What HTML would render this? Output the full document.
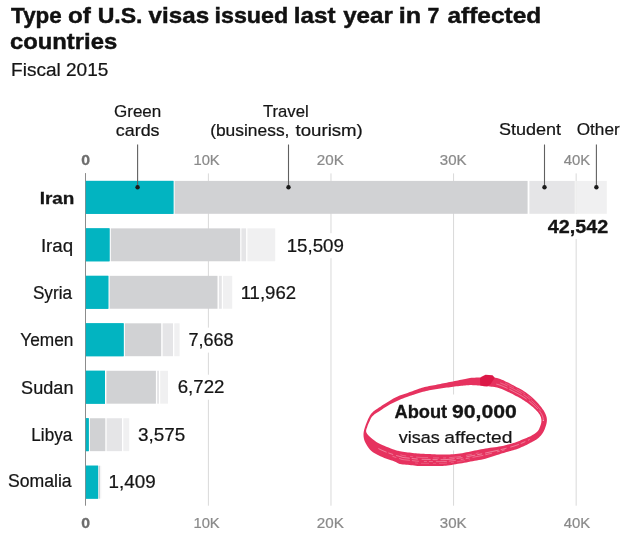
<!DOCTYPE html><html><head><meta charset="utf-8"><style>html,body{margin:0;padding:0;background:#fff;width:630px;height:535px;overflow:hidden}</style></head><body><svg width="630" height="535" viewBox="0 0 630 535" style="display:block;will-change:transform">
<rect width="630" height="535" fill="#fff"/>
<text x="11.13" y="23.10" font-family="Liberation Sans, sans-serif" font-weight="700" font-size="22.30" fill="#111" textLength="50.60" lengthAdjust="spacingAndGlyphs" stroke="#111" stroke-width="0.45">Type</text>
<text x="68.08" y="23.10" font-family="Liberation Sans, sans-serif" font-weight="700" font-size="22.30" fill="#111" textLength="22.84" lengthAdjust="spacingAndGlyphs" stroke="#111" stroke-width="0.45">of</text>
<text x="97.67" y="23.10" font-family="Liberation Sans, sans-serif" font-weight="700" font-size="22.30" fill="#111" textLength="44.84" lengthAdjust="spacingAndGlyphs" stroke="#111" stroke-width="0.45">U.S.</text>
<text x="148.63" y="23.10" font-family="Liberation Sans, sans-serif" font-weight="700" font-size="22.30" fill="#111" textLength="60.49" lengthAdjust="spacingAndGlyphs" stroke="#111" stroke-width="0.45">visas</text>
<text x="214.52" y="23.10" font-family="Liberation Sans, sans-serif" font-weight="700" font-size="22.30" fill="#111" textLength="73.65" lengthAdjust="spacingAndGlyphs" stroke="#111" stroke-width="0.45">issued</text>
<text x="293.86" y="23.10" font-family="Liberation Sans, sans-serif" font-weight="700" font-size="22.30" fill="#111" textLength="41.71" lengthAdjust="spacingAndGlyphs" stroke="#111" stroke-width="0.45">last</text>
<text x="343.17" y="23.10" font-family="Liberation Sans, sans-serif" font-weight="700" font-size="22.30" fill="#111" textLength="49.65" lengthAdjust="spacingAndGlyphs" stroke="#111" stroke-width="0.45">year</text>
<text x="398.68" y="23.10" font-family="Liberation Sans, sans-serif" font-weight="700" font-size="22.30" fill="#111" textLength="22.41" lengthAdjust="spacingAndGlyphs" stroke="#111" stroke-width="0.45">in</text>
<text x="427.55" y="23.10" font-family="Liberation Sans, sans-serif" font-weight="700" font-size="22.30" fill="#111" textLength="11.83" lengthAdjust="spacingAndGlyphs" stroke="#111" stroke-width="0.45">7</text>
<text x="447.52" y="23.10" font-family="Liberation Sans, sans-serif" font-weight="700" font-size="22.30" fill="#111" textLength="93.67" lengthAdjust="spacingAndGlyphs" stroke="#111" stroke-width="0.45">affected</text>
<text x="10.00" y="49.20" font-family="Liberation Sans, sans-serif" font-weight="700" font-size="22.30" fill="#111" textLength="107.13" lengthAdjust="spacingAndGlyphs" stroke="#111" stroke-width="0.45">countries</text>
<text x="11.08" y="76.20" font-family="Liberation Sans, sans-serif" font-size="18.00" fill="#151515" textLength="97.26" lengthAdjust="spacingAndGlyphs" stroke="#151515" stroke-width="0.22">Fiscal 2015</text>
<line x1="208.39" y1="173.4" x2="208.39" y2="505.7" stroke="#d9d9d9" stroke-width="1"/>
<line x1="330.98" y1="173.4" x2="330.98" y2="505.7" stroke="#d9d9d9" stroke-width="1"/>
<line x1="453.57" y1="173.4" x2="453.57" y2="505.7" stroke="#d9d9d9" stroke-width="1"/>
<line x1="576.16" y1="173.4" x2="576.16" y2="505.7" stroke="#d9d9d9" stroke-width="1"/>
<text x="81.22" y="165.40" font-family="Liberation Sans, sans-serif" font-weight="700" font-size="14.20" fill="#6e6e6e" textLength="8.78" lengthAdjust="spacingAndGlyphs" stroke="#6e6e6e" stroke-width="0.3">0</text>
<text x="193.44" y="165.00" font-family="Liberation Sans, sans-serif" font-size="14.40" fill="#8a8a8a" textLength="26.28" lengthAdjust="spacingAndGlyphs" stroke="#8a8a8a" stroke-width="0.22">10K</text>
<text x="316.89" y="165.00" font-family="Liberation Sans, sans-serif" font-size="14.40" fill="#8a8a8a" textLength="27.04" lengthAdjust="spacingAndGlyphs" stroke="#8a8a8a" stroke-width="0.22">20K</text>
<text x="439.79" y="165.00" font-family="Liberation Sans, sans-serif" font-size="14.40" fill="#8a8a8a" textLength="26.74" lengthAdjust="spacingAndGlyphs" stroke="#8a8a8a" stroke-width="0.22">30K</text>
<text x="563.81" y="165.00" font-family="Liberation Sans, sans-serif" font-size="14.40" fill="#8a8a8a" textLength="26.51" lengthAdjust="spacingAndGlyphs" stroke="#8a8a8a" stroke-width="0.22">40K</text>
<text x="81.22" y="528.00" font-family="Liberation Sans, sans-serif" font-weight="700" font-size="14.20" fill="#6e6e6e" textLength="8.78" lengthAdjust="spacingAndGlyphs" stroke="#6e6e6e" stroke-width="0.3">0</text>
<text x="193.44" y="527.60" font-family="Liberation Sans, sans-serif" font-size="14.40" fill="#8a8a8a" textLength="26.28" lengthAdjust="spacingAndGlyphs" stroke="#8a8a8a" stroke-width="0.22">10K</text>
<text x="316.89" y="527.60" font-family="Liberation Sans, sans-serif" font-size="14.40" fill="#8a8a8a" textLength="27.04" lengthAdjust="spacingAndGlyphs" stroke="#8a8a8a" stroke-width="0.22">20K</text>
<text x="439.79" y="527.60" font-family="Liberation Sans, sans-serif" font-size="14.40" fill="#8a8a8a" textLength="26.74" lengthAdjust="spacingAndGlyphs" stroke="#8a8a8a" stroke-width="0.22">30K</text>
<text x="563.81" y="527.60" font-family="Liberation Sans, sans-serif" font-size="14.40" fill="#8a8a8a" textLength="26.51" lengthAdjust="spacingAndGlyphs" stroke="#8a8a8a" stroke-width="0.22">40K</text>
<rect x="85.80" y="180.90" width="87.60" height="32.9" fill="#02b4c1"/>
<rect x="174.60" y="180.90" width="353.00" height="32.9" fill="#d1d2d4"/>
<rect x="529.40" y="180.90" width="45.40" height="32.9" fill="#e5e5e7"/>
<rect x="576.20" y="180.90" width="30.60" height="32.9" fill="#f0f0f1"/>
<rect x="85.80" y="228.37" width="23.70" height="32.9" fill="#02b4c1"/>
<rect x="110.80" y="228.37" width="129.40" height="32.9" fill="#d1d2d4"/>
<rect x="241.40" y="228.37" width="4.70" height="32.9" fill="#e5e5e7"/>
<rect x="247.40" y="228.37" width="27.80" height="32.9" fill="#f0f0f1"/>
<rect x="85.80" y="275.84" width="22.50" height="32.9" fill="#02b4c1"/>
<rect x="109.60" y="275.84" width="107.90" height="32.9" fill="#d1d2d4"/>
<rect x="218.90" y="275.84" width="2.90" height="32.9" fill="#e5e5e7"/>
<rect x="223.00" y="275.84" width="9.20" height="32.9" fill="#f0f0f1"/>
<rect x="85.80" y="323.31" width="37.80" height="32.9" fill="#02b4c1"/>
<rect x="124.90" y="323.31" width="36.30" height="32.9" fill="#d1d2d4"/>
<rect x="162.60" y="323.31" width="10.40" height="32.9" fill="#e5e5e7"/>
<rect x="174.30" y="323.31" width="5.30" height="32.9" fill="#f0f0f1"/>
<rect x="85.80" y="370.78" width="19.20" height="32.9" fill="#02b4c1"/>
<rect x="106.40" y="370.78" width="49.50" height="32.9" fill="#d1d2d4"/>
<rect x="157.10" y="370.78" width="1.90" height="32.9" fill="#e5e5e7"/>
<rect x="160.20" y="370.78" width="7.80" height="32.9" fill="#f0f0f1"/>
<rect x="85.80" y="418.25" width="2.90" height="32.9" fill="#02b4c1"/>
<rect x="89.90" y="418.25" width="15.40" height="32.9" fill="#d1d2d4"/>
<rect x="106.60" y="418.25" width="15.40" height="32.9" fill="#e5e5e7"/>
<rect x="123.30" y="418.25" width="5.90" height="32.9" fill="#f0f0f1"/>
<rect x="85.80" y="465.72" width="12.30" height="32.9" fill="#02b4c1"/>
<rect x="98.70" y="465.72" width="1.30" height="32.9" fill="#d1d2d4"/>
<rect x="100.20" y="465.72" width="0.30" height="32.9" fill="#e5e5e7"/>
<rect x="100.70" y="465.72" width="0.50" height="32.9" fill="#f0f0f1"/>
<line x1="85.5" y1="173.1" x2="85.5" y2="505.7" stroke="#8c8c8c" stroke-width="1"/>
<rect x="85.80" y="180.90" width="87.60" height="32.9" fill="#02b4c1"/>
<rect x="85.80" y="228.37" width="23.70" height="32.9" fill="#02b4c1"/>
<rect x="85.80" y="275.84" width="22.50" height="32.9" fill="#02b4c1"/>
<rect x="85.80" y="323.31" width="37.80" height="32.9" fill="#02b4c1"/>
<rect x="85.80" y="370.78" width="19.20" height="32.9" fill="#02b4c1"/>
<rect x="85.80" y="418.25" width="2.90" height="32.9" fill="#02b4c1"/>
<rect x="85.80" y="465.72" width="12.30" height="32.9" fill="#02b4c1"/>
<text x="39.67" y="204.40" font-family="Liberation Sans, sans-serif" font-weight="700" font-size="17.20" fill="#151515" textLength="34.74" lengthAdjust="spacingAndGlyphs" stroke="#151515" stroke-width="0.3">Iran</text>
<rect x="545" y="214" width="65" height="25" fill="#fff"/>
<text x="547.65" y="233.00" font-family="Liberation Sans, sans-serif" font-weight="700" font-size="17.50" fill="#151515" textLength="60.51" lengthAdjust="spacingAndGlyphs" stroke="#151515" stroke-width="0.3">42,542</text>
<text x="40.92" y="252.20" font-family="Liberation Sans, sans-serif" font-size="17.60" fill="#151515" textLength="32.32" lengthAdjust="spacingAndGlyphs" stroke="#151515" stroke-width="0.22">Iraq</text>
<rect x="284.60" y="233.20" width="61.90" height="25" fill="#fff"/>
<text x="286.65" y="251.80" font-family="Liberation Sans, sans-serif" font-size="17.70" fill="#151515" textLength="57.27" lengthAdjust="spacingAndGlyphs" stroke="#151515" stroke-width="0.22">15,509</text>
<text x="32.88" y="298.60" font-family="Liberation Sans, sans-serif" font-size="17.60" fill="#151515" textLength="39.19" lengthAdjust="spacingAndGlyphs" stroke="#151515" stroke-width="0.22">Syria</text>
<rect x="238.60" y="280.30" width="60.00" height="25" fill="#fff"/>
<text x="240.66" y="298.90" font-family="Liberation Sans, sans-serif" font-size="17.70" fill="#151515" textLength="55.46" lengthAdjust="spacingAndGlyphs" stroke="#151515" stroke-width="0.22">11,962</text>
<text x="20.26" y="346.10" font-family="Liberation Sans, sans-serif" font-size="17.60" fill="#151515" textLength="53.14" lengthAdjust="spacingAndGlyphs" stroke="#151515" stroke-width="0.22">Yemen</text>
<rect x="185.90" y="327.60" width="50.40" height="25" fill="#fff"/>
<text x="188.40" y="346.20" font-family="Liberation Sans, sans-serif" font-size="17.70" fill="#151515" textLength="45.22" lengthAdjust="spacingAndGlyphs" stroke="#151515" stroke-width="0.22">7,668</text>
<text x="21.14" y="393.50" font-family="Liberation Sans, sans-serif" font-size="17.60" fill="#151515" textLength="52.32" lengthAdjust="spacingAndGlyphs" stroke="#151515" stroke-width="0.22">Sudan</text>
<rect x="175.20" y="374.70" width="51.80" height="25" fill="#fff"/>
<text x="177.72" y="393.30" font-family="Liberation Sans, sans-serif" font-size="17.70" fill="#151515" textLength="46.77" lengthAdjust="spacingAndGlyphs" stroke="#151515" stroke-width="0.22">6,722</text>
<text x="31.34" y="440.60" font-family="Liberation Sans, sans-serif" font-size="17.60" fill="#151515" textLength="40.92" lengthAdjust="spacingAndGlyphs" stroke="#151515" stroke-width="0.22">Libya</text>
<rect x="135.20" y="422.10" width="52.70" height="25" fill="#fff"/>
<text x="137.94" y="440.70" font-family="Liberation Sans, sans-serif" font-size="17.70" fill="#151515" textLength="47.26" lengthAdjust="spacingAndGlyphs" stroke="#151515" stroke-width="0.22">3,575</text>
<text x="7.96" y="486.80" font-family="Liberation Sans, sans-serif" font-size="17.60" fill="#151515" textLength="63.70" lengthAdjust="spacingAndGlyphs" stroke="#151515" stroke-width="0.22">Somalia</text>
<rect x="106.60" y="469.00" width="51.70" height="25" fill="#fff"/>
<text x="108.64" y="487.60" font-family="Liberation Sans, sans-serif" font-size="17.70" fill="#151515" textLength="47.06" lengthAdjust="spacingAndGlyphs" stroke="#151515" stroke-width="0.22">1,409</text>
<line x1="137.6" y1="144.5" x2="137.6" y2="187.3" stroke="#606060" stroke-width="1.1"/>
<circle cx="137.6" cy="187.3" r="2.2" fill="#1a1a1a"/>
<line x1="288.5" y1="144.5" x2="288.5" y2="187.3" stroke="#606060" stroke-width="1.1"/>
<circle cx="288.5" cy="187.3" r="2.2" fill="#1a1a1a"/>
<line x1="544.5" y1="144.5" x2="544.5" y2="187.3" stroke="#606060" stroke-width="1.1"/>
<circle cx="544.5" cy="187.3" r="2.2" fill="#1a1a1a"/>
<line x1="596.4" y1="144.5" x2="596.4" y2="187.3" stroke="#606060" stroke-width="1.1"/>
<circle cx="596.4" cy="187.3" r="2.2" fill="#1a1a1a"/>
<text x="114.00" y="117.00" font-family="Liberation Sans, sans-serif" font-size="17.00" fill="#151515" textLength="47.29" lengthAdjust="spacingAndGlyphs" stroke="#151515" stroke-width="0.22">Green</text>
<text x="115.79" y="136.00" font-family="Liberation Sans, sans-serif" font-size="17.00" fill="#151515" textLength="43.79" lengthAdjust="spacingAndGlyphs" stroke="#151515" stroke-width="0.22">cards</text>
<text x="262.98" y="117.00" font-family="Liberation Sans, sans-serif" font-size="17.00" fill="#151515" textLength="45.68" lengthAdjust="spacingAndGlyphs" stroke="#151515" stroke-width="0.22">Travel</text>
<text x="210.16" y="136.00" font-family="Liberation Sans, sans-serif" font-size="17.00" fill="#151515" textLength="79.26" lengthAdjust="spacingAndGlyphs" stroke="#151515" stroke-width="0.22">(business,</text>
<text x="295.57" y="136.00" font-family="Liberation Sans, sans-serif" font-size="17.00" fill="#151515" textLength="67.27" lengthAdjust="spacingAndGlyphs" stroke="#151515" stroke-width="0.22">tourism)</text>
<text x="498.94" y="135.00" font-family="Liberation Sans, sans-serif" font-size="17.00" fill="#151515" textLength="62.14" lengthAdjust="spacingAndGlyphs" stroke="#151515" stroke-width="0.22">Student</text>
<text x="576.73" y="135.00" font-family="Liberation Sans, sans-serif" font-size="17.00" fill="#151515" textLength="42.99" lengthAdjust="spacingAndGlyphs" stroke="#151515" stroke-width="0.22">Other</text>
<rect x="385" y="394.5" width="140" height="56" fill="#fff"/>
<path d="M363.50,435.20 L363.50,434.03 L363.58,432.89 L363.74,431.76 L363.99,430.60 L364.31,429.36 L364.70,428.00 L365.19,426.46 L365.80,424.74 L366.49,422.96 L367.21,421.19 L367.92,419.54 L368.60,418.10 L369.21,416.90 L369.77,415.86 L370.33,414.93 L370.93,414.08 L371.61,413.25 L372.40,412.40 L373.30,411.56 L374.28,410.79 L375.34,410.03 L376.47,409.27 L377.69,408.47 L379.00,407.60 L380.43,406.64 L381.98,405.60 L383.62,404.53 L385.30,403.44 L386.97,402.39 L388.60,401.40 L390.19,400.45 L391.77,399.52 L393.36,398.62 L394.94,397.76 L396.52,396.95 L398.10,396.20 L399.68,395.54 L401.27,394.96 L402.86,394.44 L404.44,393.94 L406.02,393.43 L407.60,392.90 L409.19,392.33 L410.81,391.74 L412.43,391.14 L414.01,390.56 L415.54,390.01 L417.00,389.50 L418.34,389.04 L419.57,388.61 L420.74,388.21 L421.92,387.83 L423.16,387.46 L424.50,387.10 L425.97,386.75 L427.51,386.43 L429.12,386.12 L430.75,385.81 L432.39,385.51 L434.00,385.20 L435.60,384.88 L437.20,384.57 L438.80,384.25 L440.40,383.93 L442.00,383.62 L443.60,383.30 L445.19,382.98 L446.77,382.67 L448.36,382.35 L449.94,382.03 L451.52,381.72 L453.10,381.40 L454.71,381.08 L456.34,380.75 L457.98,380.42 L459.59,380.10 L461.14,379.79 L462.60,379.50 L463.93,379.22 L465.14,378.93 L466.30,378.66 L467.46,378.41 L468.67,378.19 L470.00,378.00 L471.46,377.86 L473.01,377.75 L474.62,377.67 L476.26,377.61 L477.89,377.55 L479.50,377.50 L481.08,377.43 L482.66,377.36 L484.24,377.29 L485.83,377.25 L487.41,377.25 L489.00,377.30 L490.60,377.39 L492.20,377.49 L493.80,377.63 L495.40,377.83 L497.00,378.12 L498.60,378.50 L500.21,379.02 L501.84,379.65 L503.46,380.37 L505.06,381.13 L506.62,381.88 L508.10,382.60 L509.49,383.28 L510.81,383.95 L512.09,384.63 L513.34,385.30 L514.60,385.99 L515.90,386.70 L517.24,387.41 L518.59,388.12 L519.96,388.84 L521.32,389.59 L522.67,390.37 L524.00,391.20 L525.33,392.09 L526.66,393.03 L527.98,394.01 L529.27,395.00 L530.51,396.01 L531.70,397.00 L532.82,397.98 L533.89,398.97 L534.91,399.96 L535.90,400.96 L536.86,401.97 L537.80,403.00 L538.73,404.06 L539.66,405.14 L540.55,406.24 L541.40,407.33 L542.19,408.39 L542.90,409.40 L543.53,410.36 L544.10,411.28 L544.60,412.17 L545.05,413.05 L545.45,413.92 L545.80,414.80 L546.11,415.67 L546.38,416.52 L546.60,417.36 L546.76,418.21 L546.86,419.09 L546.90,420.00 L546.86,420.95 L546.76,421.91 L546.60,422.91 L546.38,423.92 L546.11,424.95 L545.80,426.00 L545.44,427.09 L545.04,428.22 L544.58,429.38 L544.07,430.52 L543.51,431.64 L542.90,432.70 L542.23,433.72 L541.50,434.71 L540.72,435.67 L539.89,436.60 L539.01,437.48 L538.10,438.30 L537.14,439.05 L536.14,439.72 L535.09,440.35 L534.00,440.96 L532.87,441.56 L531.70,442.20 L530.47,442.87 L529.18,443.56 L527.84,444.24 L526.49,444.92 L525.13,445.58 L523.80,446.20 L522.48,446.79 L521.17,447.36 L519.86,447.91 L518.54,448.43 L517.22,448.93 L515.90,449.40 L514.58,449.83 L513.27,450.22 L511.96,450.58 L510.64,450.94 L509.29,451.30 L507.90,451.70 L506.52,452.11 L505.17,452.51 L503.80,452.92 L502.35,453.37 L500.77,453.85 L499.00,454.40 L496.99,455.04 L494.78,455.78 L492.44,456.56 L490.04,457.34 L487.67,458.07 L485.40,458.70 L483.23,459.22 L481.10,459.67 L478.99,460.07 L476.90,460.45 L474.81,460.82 L472.70,461.20 L470.58,461.60 L468.46,461.99 L466.33,462.38 L464.21,462.76 L462.10,463.14 L460.00,463.50 L457.88,463.87 L455.74,464.24 L453.60,464.61 L451.51,464.96 L449.50,465.26 L447.60,465.50 L445.85,465.68 L444.22,465.80 L442.67,465.88 L441.16,465.93 L439.65,465.96 L438.10,466.00 L436.52,466.03 L434.94,466.04 L433.36,466.03 L431.77,466.02 L430.19,466.01 L428.60,466.00 L427.00,466.01 L425.40,466.04 L423.80,466.06 L422.20,466.07 L420.60,466.06 L419.00,466.00 L417.41,465.89 L415.83,465.74 L414.24,465.56 L412.66,465.37 L411.08,465.18 L409.50,465.00 L407.87,464.85 L406.19,464.73 L404.50,464.60 L402.87,464.45 L401.35,464.26 L400.00,464.00 L398.93,463.68 L398.12,463.31 L397.42,462.91 L396.68,462.45 L395.76,461.95 L394.50,461.40 L392.84,460.80 L390.88,460.16 L388.74,459.47 L386.52,458.73 L384.34,457.94 L382.30,457.10 L380.35,456.22 L378.39,455.29 L376.47,454.31 L374.63,453.28 L372.92,452.18 L371.40,451.00 L370.06,449.71 L368.85,448.30 L367.78,446.83 L366.84,445.33 L366.01,443.87 L365.30,442.50 L364.72,441.21 L364.27,439.97 L363.94,438.77 L363.72,437.58 L363.58,436.40 Z M367.23,433.98 L368.29,435.23 L369.57,436.53 L370.98,437.80 L372.42,439.01 L373.80,440.10 L375.10,441.06 L376.41,441.91 L377.74,442.71 L379.15,443.46 L380.66,444.22 L382.30,445.00 L384.20,445.85 L386.34,446.73 L388.59,447.62 L390.79,448.46 L392.81,449.20 L394.50,449.80 L395.76,450.23 L396.68,450.52 L397.42,450.71 L398.12,450.86 L398.93,451.01 L400.00,451.20 L401.35,451.44 L402.87,451.68 L404.50,451.93 L406.19,452.16 L407.87,452.39 L409.50,452.60 L411.08,452.80 L412.66,452.99 L414.24,453.16 L415.83,453.33 L417.41,453.47 L419.00,453.60 L420.60,453.70 L422.20,453.77 L423.80,453.83 L425.40,453.88 L427.00,453.93 L428.60,454.00 L430.19,454.08 L431.77,454.18 L433.36,454.28 L434.94,454.37 L436.52,454.44 L438.10,454.50 L439.65,454.54 L441.16,454.57 L442.67,454.59 L444.22,454.59 L445.85,454.56 L447.60,454.50 L449.50,454.41 L451.51,454.30 L453.60,454.16 L455.74,453.98 L457.88,453.77 L460.00,453.50 L462.10,453.17 L464.21,452.78 L466.33,452.34 L468.46,451.89 L470.58,451.43 L472.70,451.00 L474.81,450.58 L476.90,450.14 L478.99,449.71 L481.10,449.29 L483.23,448.88 L485.40,448.50 L487.67,448.15 L490.04,447.83 L492.44,447.52 L494.78,447.22 L496.99,446.92 L499.00,446.60 L500.77,446.28 L502.35,445.96 L503.80,445.63 L505.17,445.30 L506.52,444.96 L507.90,444.60 L509.29,444.23 L510.64,443.86 L511.96,443.48 L513.27,443.07 L514.58,442.65 L515.90,442.20 L517.22,441.72 L518.54,441.20 L519.86,440.67 L521.17,440.12 L522.48,439.56 L523.80,439.00 L525.14,438.44 L526.51,437.88 L527.88,437.31 L529.21,436.73 L530.50,436.13 L531.70,435.50 L532.84,434.84 L533.94,434.16 L534.99,433.46 L535.97,432.75 L536.84,432.03 L537.60,431.30 L538.21,430.58 L538.70,429.85 L539.08,429.12 L539.40,428.37 L539.70,427.60 L540.00,426.80 L540.32,425.96 L540.62,425.08 L540.90,424.18 L541.13,423.27 L541.31,422.38 L541.40,421.50 L541.42,420.65 L541.39,419.81 L541.29,418.98 L541.13,418.16 L540.90,417.33 L540.60,416.50 L540.22,415.67 L539.77,414.84 L539.25,414.02 L538.66,413.19 L538.01,412.35 L537.30,411.50 L536.52,410.64 L535.68,409.77 L534.78,408.89 L533.81,408.01 L532.78,407.11 L531.70,406.20 L530.54,405.26 L529.30,404.29 L528.01,403.31 L526.67,402.33 L525.33,401.39 L524.00,400.50 L522.67,399.66 L521.32,398.86 L519.96,398.09 L518.59,397.35 L517.24,396.62 L515.90,395.90 L514.60,395.20 L513.34,394.52 L512.09,393.86 L510.81,393.20 L509.49,392.55 L508.10,391.90 L506.60,391.22 L505.03,390.50 L503.40,389.79 L501.76,389.12 L500.15,388.51 L498.60,388.00 L497.14,387.61 L495.74,387.30 L494.36,387.07 L492.97,386.87 L491.53,386.69 L490.00,386.50 L488.35,386.30 L486.60,386.11 L484.81,385.93 L483.00,385.77 L481.21,385.63 L479.50,385.50 L477.83,385.39 L476.18,385.29 L474.56,385.20 L472.97,385.14 L471.45,385.10 L470.00,385.10 L468.67,385.14 L467.46,385.21 L466.30,385.31 L465.14,385.43 L463.93,385.57 L462.60,385.70 L461.14,385.84 L459.59,385.99 L457.98,386.15 L456.34,386.32 L454.71,386.51 L453.10,386.70 L451.52,386.91 L449.94,387.14 L448.36,387.38 L446.77,387.62 L445.19,387.86 L443.60,388.10 L442.00,388.33 L440.40,388.55 L438.80,388.77 L437.20,389.00 L435.60,389.24 L434.00,389.50 L432.41,389.78 L430.83,390.06 L429.24,390.36 L427.66,390.67 L426.08,391.02 L424.50,391.40 L422.89,391.83 L421.26,392.31 L419.62,392.82 L418.01,393.33 L416.46,393.83 L415.00,394.30 L413.67,394.71 L412.46,395.09 L411.30,395.44 L410.14,395.81 L408.93,396.22 L407.60,396.70 L406.14,397.24 L404.59,397.83 L402.98,398.46 L401.34,399.11 L399.71,399.80 L398.10,400.50 L396.52,401.21 L394.94,401.94 L393.36,402.70 L391.77,403.49 L390.19,404.32 L388.60,405.20 L386.97,406.16 L385.30,407.21 L383.62,408.29 L381.98,409.38 L380.43,410.43 L379.00,411.40 L377.68,412.28 L376.44,413.09 L375.28,413.86 L374.21,414.61 L373.25,415.39 L372.40,416.20 L371.69,417.06 L371.13,417.93 L370.67,418.83 L370.28,419.72 L369.90,420.62 L369.50,421.50 L369.08,422.36 L368.66,423.21 L368.27,424.05 L367.90,424.90 L367.58,425.78 L367.30,426.70 L366.99,427.65 L366.63,428.62 L366.31,429.62 L366.11,430.64 L366.15,431.70 L366.50,432.80 Z" fill="#e6325f" fill-rule="evenodd"/>
<path d="M378.36,448.53 L378.87,448.79 L379.40,449.06 L380.19,449.46 L380.75,449.72 L381.32,449.99 L381.91,450.26 L382.52,450.53 L383.13,450.80 L383.76,451.06 L384.38,451.33 L385.28,451.71 L385.93,451.97 L386.87,452.34 L387.53,452.59 L388.19,452.83 L388.85,453.07 L389.50,453.30 L390.14,453.53 L390.77,453.74 L391.38,453.95 L391.96,454.15 L392.52,454.34 L393.06,454.52 L393.29,454.60 L393.77,454.76 L394.22,454.91 L394.39,454.97 L394.80,455.10 L394.94,455.15 L395.08,455.19 L395.44,455.30 L395.56,455.33 L395.68,455.36 L396.01,455.47 L396.13,455.49 L396.24,455.52 L396.57,455.62 L396.70,455.64 L396.84,455.67 L397.18,455.77 L397.34,455.80 L397.52,455.83 L397.89,455.94 L398.10,455.98 L398.48,456.09 L398.85,456.20 L399.09,456.24 L399.47,456.35 L399.84,456.46 L400.21,456.56 L402.67,457.41 L403.35,457.51 L404.06,457.59 L404.55,457.65 L405.05,457.71 L405.56,457.76 L406.07,457.82 L406.57,457.87 L407.08,457.93 L407.58,457.98 L408.08,458.03 L408.58,458.09 L409.06,458.14 L409.55,458.19 L409.81,458.22 L410.28,458.28 L410.76,458.33 L411.23,458.39 L411.71,458.44 L412.18,458.50 L412.66,458.55 L413.13,458.61 L413.60,458.66 L414.08,458.72 L414.55,458.77 L415.03,458.82 L415.50,458.87 L415.98,458.92 L416.45,458.97 L416.93,459.02 L417.62,459.08 L418.09,459.12 L418.57,459.15 L419.26,459.20 L419.74,459.23 L420.22,459.25 L420.70,459.27 L421.40,459.29 L421.88,459.30 L422.36,459.31 L422.84,459.32 L423.32,459.33 L423.80,459.34 L424.28,459.34 L424.76,459.35 L425.24,459.35 L425.72,459.35 L426.20,459.36 L426.68,459.36 L427.16,459.37 L427.64,459.38 L428.12,459.39 L428.60,459.40 L429.08,459.41 L429.55,459.43 L430.03,459.44 L430.51,459.46 L430.98,459.48 L431.46,459.49 L431.93,459.51 L432.41,459.53 L432.88,459.55 L433.36,459.57 L433.83,459.58 L434.30,459.60 L434.78,459.61 L435.25,459.63 L435.73,459.64 L436.20,459.65 L436.68,459.66 L437.15,459.67 L437.84,459.67 L438.31,459.67 L438.78,459.67 L439.24,459.67 L439.70,459.68 L440.16,459.68 L440.61,459.68 L441.06,459.68 L441.51,459.68 L441.96,459.67 L442.42,459.67 L442.88,459.66 L443.34,459.65 L443.80,459.64 L444.49,459.61 L444.98,459.59 L445.47,459.57 L445.97,459.54 L446.49,459.51 L447.01,459.47 L447.81,459.40 L448.36,459.35 L448.94,459.30 L449.52,459.25 L450.11,459.19 L450.71,459.13 L451.32,459.07 L451.94,459.00 L452.56,458.93 L453.19,458.86 L453.83,458.79 L454.47,458.71 L455.11,458.64 L455.75,458.56 L456.39,458.47 L457.03,458.39 L457.68,458.31 L458.32,458.22 L458.95,458.13 L459.59,458.04 L460.22,457.95 L460.85,457.85 L461.48,457.75 L462.11,457.65 L462.74,457.54 L463.38,457.43 L464.01,457.31 L464.65,457.20 L465.28,457.08 L465.92,456.95 L466.55,456.83 L467.19,456.70 L467.83,456.58 L468.47,456.45 L469.10,456.32 L469.74,456.19 L470.38,456.06 L471.01,455.93 L471.65,455.80 L472.29,455.68 L472.92,455.55 L473.55,455.43 L474.19,455.31 L474.82,455.20 L475.44,455.08 L476.07,454.95 L476.70,454.83 L477.33,454.71 L477.96,454.59 L478.59,454.47 L479.22,454.34 L479.85,454.21 L480.48,454.09 L481.11,453.96 L481.75,453.83 L482.68,453.62 L483.32,453.49 L483.97,453.34 L484.62,453.20 L485.29,453.05 L485.96,452.90 L486.63,452.74 L487.32,452.59 L488.01,452.43 L488.72,452.27 L489.43,452.11 L490.14,451.95 L490.86,451.79 L491.57,451.63 L492.29,451.48 L492.99,451.32 L493.70,451.17 L494.39,451.02 L495.08,450.87 L495.75,450.73 L496.40,450.59 L497.04,450.45 L497.66,450.32 L498.26,450.19 L498.84,450.06 L499.40,449.94 L499.94,449.82 L500.46,449.70 L500.97,449.58 L501.45,449.46 L502.12,449.29 L502.58,449.18 L503.02,449.07 L503.46,448.96 L503.89,448.85 L504.31,448.74 L504.72,448.64 L505.13,448.53 L505.54,448.42 L505.95,448.31 L506.36,448.20 L506.77,448.09 L507.18,447.97 L507.59,447.86 L507.82,447.81 L508.23,447.69 L508.65,447.58 L509.06,447.47 L509.47,447.36 L509.88,447.25 L510.28,447.14 L510.69,447.04 L511.26,446.88 L511.66,446.77 L512.06,446.65 L512.45,446.54 L512.85,446.42 L513.24,446.31 L513.63,446.19 L514.03,446.06 L514.60,445.88 L514.99,445.74 L515.39,445.61 L515.78,445.47 L516.18,445.33 L516.57,445.19 L516.97,445.05 L517.37,444.90 L517.76,444.75 L518.16,444.60 L518.55,444.45 L519.13,444.22 L519.52,444.06 L519.91,443.89 L520.31,443.73 L520.70,443.56 L521.10,443.40 L521.49,443.23 L521.89,443.06 L522.28,442.89 L522.68,442.71 L523.07,442.54 L523.47,442.36 L523.87,442.18 L524.27,442.00 L524.67,441.82 L525.07,441.63 L525.47,441.45 L525.88,441.27 L526.28,441.08 L526.69,440.90 L527.09,440.71 L527.50,440.53 L527.90,440.34 L528.30,440.16 L528.70,439.97 L529.27,439.69 L529.66,439.51" fill="none" stroke="#fff" stroke-opacity="0.45" stroke-width="0.9" stroke-dasharray="9 2 5 3 14 2 6 4"/>
<path d="M392.51,456.30 L392.67,456.36 L393.19,456.53 L393.68,456.69 L393.80,456.73 L394.25,456.88 L394.35,456.91 L394.44,456.94 L394.85,457.08 L394.94,457.10 L395.02,457.12 L395.40,457.25 L395.48,457.27 L395.56,457.28 L395.93,457.41 L396.02,457.42 L396.12,457.44 L396.48,457.56 L396.59,457.58 L396.72,457.60 L397.09,457.73 L397.23,457.76 L397.60,457.89 L397.96,458.01 L398.12,458.04 L398.47,458.16 L398.81,458.28 L399.14,458.40 L402.35,459.54 L403.11,459.64 L403.89,459.73 L404.38,459.79 L404.88,459.84 L405.39,459.89 L405.89,459.94 L406.40,459.99 L406.91,460.04 L407.41,460.08 L407.91,460.13 L408.41,460.18 L408.90,460.23 L409.38,460.28 L409.56,460.30 L410.04,460.36 L410.52,460.41 L410.99,460.46 L411.46,460.52 L411.94,460.58 L412.41,460.63 L412.89,460.69 L413.36,460.74 L413.84,460.80 L414.31,460.85 L414.78,460.91 L415.26,460.96 L415.73,461.01 L416.21,461.06 L416.68,461.10 L417.46,461.18 L417.93,461.21 L418.41,461.25 L419.18,461.30 L419.66,461.33 L420.14,461.35 L420.62,461.37 L421.40,461.38 L421.88,461.39 L422.36,461.40 L422.84,461.41 L423.32,461.41 L423.80,461.41 L424.28,461.42 L424.76,461.42 L425.24,461.42 L425.72,461.42 L426.20,461.42 L426.68,461.42 L427.16,461.42 L427.64,461.43 L428.12,461.43 L428.60,461.44 L429.08,461.45 L429.55,461.46 L430.03,461.47 L430.51,461.48 L430.98,461.50 L431.46,461.51 L431.93,461.52 L432.41,461.54 L432.88,461.55 L433.36,461.56 L433.83,461.58 L434.30,461.59 L434.78,461.60 L435.25,461.61 L435.73,461.62 L436.20,461.62 L436.68,461.63 L437.15,461.63 L437.92,461.62 L438.39,461.62 L438.86,461.62 L439.32,461.62 L439.78,461.62 L440.23,461.61 L440.69,461.61 L441.14,461.61 L441.59,461.60 L442.04,461.60 L442.50,461.59 L442.95,461.58 L443.42,461.56 L443.88,461.55 L444.66,461.51 L445.14,461.48 L445.64,461.45 L446.15,461.42 L446.66,461.38 L447.19,461.34 L448.09,461.24 L448.65,461.19 L449.23,461.12 L449.82,461.06 L450.41,460.99 L451.02,460.92 L451.63,460.84 L452.26,460.77 L452.88,460.69 L453.52,460.61 L454.15,460.52 L454.79,460.43 L455.43,460.35 L456.08,460.26 L456.72,460.17 L457.36,460.07 L458.00,459.98 L458.64,459.89 L459.28,459.79 L459.91,459.70 L460.54,459.60 L461.17,459.50 L461.80,459.39 L462.43,459.29 L463.07,459.18 L463.70,459.07 L464.33,458.95 L464.97,458.83 L465.61,458.72 L466.24,458.60 L466.88,458.47 L467.52,458.35 L468.15,458.23 L468.79,458.10 L469.43,457.98 L470.07,457.85 L470.70,457.72 L471.34,457.60 L471.98,457.47 L472.61,457.35 L473.24,457.23 L473.88,457.11 L474.51,456.99 L475.14,456.88 L475.77,456.76 L476.39,456.64 L477.02,456.52 L477.65,456.40 L478.28,456.28 L478.91,456.16 L479.54,456.04 L480.17,455.91 L480.80,455.79 L481.44,455.66 L482.08,455.52 L483.12,455.29 L483.76,455.15 L484.41,455.00 L485.07,454.84 L485.74,454.68 L486.41,454.52 L487.10,454.35 L487.79,454.17 L488.49,453.99 L489.20,453.81 L489.91,453.63 L490.63,453.45 L491.34,453.27 L492.06,453.08 L492.77,452.90 L493.48,452.72 L494.17,452.55 L494.86,452.37 L495.54,452.20 L496.20,452.04 L496.84,451.88 L497.47,451.73 L498.08,451.58 L498.66,451.44 L499.23,451.30 L499.77,451.17 L500.30,451.03 L500.81,450.90 L501.30,450.78 L501.78,450.66 L502.51,450.45 L502.96,450.34 L503.39,450.22 L503.82,450.11 L504.24,450.00 L504.66,449.88" fill="none" stroke="#fff" stroke-opacity="0.4" stroke-width="0.8" stroke-dasharray="4 3 11 2 7 5 3 2"/>
<path d="M400.34,454.75 L400.74,454.85 L401.15,454.94 L402.95,455.54 L403.57,455.62 L404.20,455.70 L404.70,455.77 L405.21,455.83 L405.71,455.89 L406.22,455.95 L406.73,456.01 L407.23,456.07 L407.74,456.12 L408.23,456.18 L408.73,456.24 L409.21,456.29 L409.69,456.35 L410.02,456.39 L410.50,456.44 L410.97,456.50 L411.45,456.56 L411.92,456.61 L412.39,456.67 L412.87,456.72 L413.34,456.78 L413.82,456.83 L414.29,456.88 L414.77,456.94 L415.24,456.99 L415.72,457.04 L416.19,457.08 L416.67,457.13 L417.14,457.17 L417.76,457.23 L418.24,457.27 L418.71,457.30 L419.33,457.34 L419.81,457.37 L420.29,457.40 L420.77,457.42 L421.40,457.44 L421.88,457.45 L422.36,457.47 L422.84,457.48 L423.32,457.49 L423.80,457.50 L424.28,457.51 L424.76,457.52 L425.24,457.53 L425.72,457.53 L426.20,457.54 L426.68,457.55 L427.16,457.56 L427.64,457.57 L428.12,457.59 L428.60,457.60 L429.08,457.62 L429.55,457.63 L430.03,457.65 L430.51,457.67 L430.98,457.69 L431.46,457.72 L431.93,457.74 L432.41,457.76 L432.88,457.78 L433.36,457.80 L433.83,457.82 L434.30,457.84 L434.78,457.86 L435.25,457.88 L435.73,457.90 L436.20,457.91 L436.68,457.92 L437.15,457.93 L437.77,457.94 L438.24,457.95 L438.71,457.95 L439.18,457.96 L439.63,457.96 L440.09,457.97 L440.54,457.97 L440.99,457.97 L441.44,457.98 L441.90,457.98 L442.35,457.98 L442.81,457.97 L443.27,457.97 L443.73,457.96 L444.35,457.94 L444.83,457.92 L445.32,457.91 L445.82,457.88 L446.33,457.86 L446.85,457.83 L447.56,457.77 L448.11,457.74 L448.67,457.69 L449.25,457.65 L449.84,457.60 L450.44,457.55 L451.04,457.50 L451.66,457.44 L452.28,457.38 L452.91,457.32 L453.54,457.26 L454.18,457.19 L454.82,457.13 L455.46,457.06 L456.10,456.98 L456.75,456.91 L457.39,456.83 L458.03,456.75 L458.67,456.67 L459.30,456.58 L459.94,456.49 L460.57,456.40 L461.20,456.30 L461.83,456.20 L462.46,456.10 L463.09,455.98 L463.73,455.87 L464.36,455.75 L465.00,455.63 L465.63,455.51 L466.27,455.38 L466.90,455.25 L467.54,455.12 L468.18,454.99 L468.82,454.86 L469.45,454.73 L470.09,454.59 L470.73,454.46 L471.36,454.33 L472.00,454.20 L472.64,454.08 L473.27,453.96 L473.90,453.83 L474.53,453.71 L475.16,453.59 L475.79,453.47 L476.42,453.34 L477.05,453.22 L477.67,453.09 L478.30,452.97 L478.93,452.84 L479.56,452.71" fill="none" stroke="#fff" stroke-opacity="0.35" stroke-width="0.7" stroke-dasharray="6 4 3 3 12 5"/>
<path d="M415.03,462.92 L415.51,462.97 L415.98,463.02 L416.46,463.07 L417.30,463.15 L417.78,463.19 L418.26,463.23 L419.11,463.28 L419.58,463.30 L420.06,463.32 L420.54,463.34 L421.40,463.36 L421.88,463.36 L422.36,463.37 L422.84,463.37 L423.32,463.37 L423.80,463.37 L424.28,463.37 L424.76,463.37 L425.24,463.36 L425.72,463.36 L426.20,463.36 L426.68,463.36 L427.16,463.35 L427.64,463.35 L428.12,463.36 L428.60,463.36 L429.08,463.37 L429.55,463.37 L430.03,463.38 L430.51,463.39 L430.98,463.40 L431.46,463.41 L431.93,463.42 L432.41,463.43 L432.88,463.44 L433.36,463.44 L433.83,463.45 L434.30,463.46 L434.78,463.47 L435.25,463.47 L435.73,463.48 L436.20,463.48 L436.68,463.48 L437.15,463.48 L438.00,463.47 L438.47,463.46 L438.93,463.45 L439.40,463.45 L439.85,463.44 L440.31,463.44 L440.76,463.43 L441.21,463.42 L441.66,463.42 L442.11,463.40 L442.57,463.39 L443.03,463.38 L443.49,463.36 L443.96,463.34 L444.81,463.29 L445.30,463.26 L445.80,463.22 L446.31,463.18 L446.83,463.14 L447.37,463.09 L448.36,462.98 L448.93,462.91 L449.51,462.84 L450.10,462.77 L450.70,462.69 L451.31,462.61 L451.93,462.52 L452.55,462.43 L453.19,462.34 L453.82,462.25 L454.46,462.15 L455.10,462.05 L455.74,461.96 L456.39,461.86 L457.03,461.76 L457.67,461.66 L458.31,461.55 L458.95,461.45 L459.58,461.35 L460.21,461.25 L460.84,461.15 L461.47,461.05 L462.10,460.94 L462.74,460.83 L463.37,460.72 L464.00,460.61 L464.64,460.49 L465.28,460.38 L465.91,460.26 L466.55,460.14 L467.19,460.02 L467.82,459.90 L468.46,459.78 L469.10,459.66 L469.73,459.53" fill="none" stroke="#fff" stroke-opacity="0.3" stroke-width="0.6" stroke-dasharray="3 3 8 4"/>
<path d="M496.31,384.12 L496.92,384.26 L497.36,384.36 L497.97,384.54 L498.42,384.66 L498.87,384.80 L499.33,384.95 L499.79,385.10 L500.26,385.27 L500.73,385.44 L501.21,385.62 L501.85,385.89 L502.34,386.09 L502.82,386.29 L503.30,386.50 L503.78,386.71 L504.26,386.92 L504.74,387.13 L505.21,387.34 L505.68,387.55 L506.15,387.76 L506.61,387.97 L507.20,388.25 L507.65,388.46 L508.09,388.67 L508.52,388.88 L509.08,389.15 L509.50,389.35 L509.91,389.55 L510.31,389.75 L510.71,389.95 L511.10,390.15 L511.49,390.35 L511.88,390.55 L512.27,390.75 L512.65,390.95 L513.04,391.15 L513.42,391.35 L513.81,391.55 L514.19,391.76 L514.58,391.96 L514.96,392.17 L515.35,392.37 L515.60,392.51 L515.99,392.72 L516.38,392.93 L516.78,393.14 L517.18,393.35 L517.58,393.57 L518.13,393.87 L518.53,394.09 L518.94,394.31 L519.34,394.53 L519.75,394.75 L520.16,394.98 L520.70,395.30 L521.11,395.53 L521.51,395.77 L521.92,396.01 L522.32,396.26 L522.73,396.51 L523.13,396.76 L523.53,397.01 L523.94,397.27 L524.48,397.63 L524.87,397.90 L525.27,398.17 L525.66,398.44 L526.06,398.71 L526.45,398.99 L526.84,399.27 L527.23,399.56 L527.62,399.84 L528.01,400.13 L528.52,400.53 L528.90,400.82 L529.28,401.11 L529.65,401.41 L530.14,401.81 L530.50,402.10 L530.86,402.40 L531.22,402.69 L531.68,403.09 L532.02,403.39 L532.36,403.68 L532.69,403.97 L533.02,404.26 L533.44,404.65 L533.75,404.94 L534.06,405.22 L534.37,405.50 L534.67,405.79 L534.97,406.07 L535.27,406.36 L535.56,406.64 L535.85,406.93 L536.14,407.22 L536.42,407.50 L536.70,407.79 L536.97,408.08 L537.24,408.36 L537.50,408.65 L537.76,408.93 L538.01,409.22 L538.25,409.50 L538.49,409.78 L538.73,410.06 L538.96,410.34 L539.18,410.61 L539.40,410.89 L539.61,411.16 L539.81,411.43 L540.01,411.69 L540.20,411.96 L540.39,412.22 L540.57,412.48 L540.74,412.74 L540.91,413.00 L541.07,413.25 L541.28,413.60 L541.43,413.86 L541.57,414.11 L541.71,414.36 L541.88,414.71 L542.01,414.96 L542.13,415.21 L542.28,415.56 L542.38,415.81 L542.48,416.07 L542.58,416.32 L542.67,416.57 L542.78,416.92 L542.86,417.17 L542.93,417.42 L543.02,417.75 L543.07,418.00 L543.14,418.34 L543.20,418.68 L543.25,419.03 L543.28,419.28 L543.31,419.63 L543.32,420.88 L543.33,419.99 L543.33,420.61 L543.33,420.25" fill="none" stroke="#fff" stroke-opacity="0.45" stroke-width="0.8" stroke-dasharray="12 2 20 3"/>
<path d="M500.17,382.86 L500.64,383.03 L501.12,383.22 L501.59,383.41 L502.07,383.60 L502.84,383.94 L503.32,384.15 L503.80,384.36 L504.28,384.58 L504.75,384.79 L505.22,385.01 L505.69,385.22 L506.15,385.44 L506.61,385.65 L507.06,385.86 L507.51,386.06 L508.19,386.39 L508.62,386.60 L509.04,386.81 L509.45,387.01 L510.09,387.33 L510.49,387.54 L510.89,387.74 L511.28,387.94 L511.67,388.14 L512.06,388.34 L512.45,388.54 L512.83,388.74 L513.22,388.95 L513.60,389.15 L513.99,389.36 L514.38,389.56 L514.76,389.77 L515.16,389.98 L515.55,390.19 L515.94,390.39 L516.34,390.60 L516.49,390.68 L516.88,390.89 L517.28,391.11 L517.68,391.32 L518.09,391.54 L518.49,391.75 L519.14,392.10 L519.55,392.33 L519.96,392.55 L520.36,392.78 L520.77,393.01 L521.17,393.24 L521.82,393.62 L522.22,393.87 L522.62,394.11 L523.02,394.36 L523.42,394.62 L523.83,394.88 L524.23,395.14 L524.63,395.41 L525.03,395.68 L525.67,396.12 L526.07,396.40 L526.46,396.68 L526.85,396.96 L527.24,397.25 L527.63,397.53 L528.02,397.82 L528.40,398.11 L528.78,398.41 L529.16,398.70 L529.74,399.17 L530.11,399.47 L530.47,399.76 L530.83,400.05 L531.38,400.53 L531.72,400.82 L532.07,401.12 L532.40,401.41 L532.92,401.89 L533.25,402.18 L533.57,402.48 L533.89,402.77 L534.20,403.07 L534.68,403.54 L534.98,403.84 L535.28,404.13 L535.58,404.42 L535.88,404.72 L536.17,405.01 L536.46,405.31 L536.75,405.61 L537.03,405.91 L537.31,406.21 L537.59,406.51 L537.87,406.81 L538.14,407.12 L538.41,407.42 L538.67,407.72 L538.93,408.02 L539.18,408.32 L539.43,408.62 L539.67,408.92 L539.91,409.21 L540.14,409.51 L540.37,409.80 L540.58,410.08 L540.79,410.37 L541.00,410.65 L541.20,410.92 L541.39,411.20 L541.57,411.47 L541.75,411.74 L541.93,412.00" fill="none" stroke="#fff" stroke-opacity="0.4" stroke-width="0.7" stroke-dasharray="8 2 14 2"/>
<path d="M505.06,383.04 L505.53,383.26 L506.00,383.48 L506.46,383.70 L506.91,383.91 L507.36,384.12 L507.80,384.33 L508.23,384.54 L508.98,384.90 L509.39,385.11 L509.80,385.31 L510.20,385.51 L510.90,385.88 L511.29,386.08 L511.68,386.28 L512.06,386.48 L512.44,386.69 L512.83,386.89 L513.21,387.09 L513.59,387.30 L513.97,387.50 L514.36,387.71 L514.75,387.92 L515.14,388.13 L515.53,388.34 L515.93,388.55 L516.33,388.76 L516.72,388.97 L517.12,389.18 L517.20,389.23 L517.60,389.44 L518.01,389.65 L518.41,389.86 L518.82,390.08 L519.22,390.30 L519.96,390.70 L520.37,390.92 L520.77,391.15 L521.18,391.38 L521.58,391.61 L521.99,391.84 L522.71,392.28 L523.11,392.53 L523.51,392.79 L523.91,393.05 L524.31,393.31 L524.71,393.58 L525.11,393.85 L525.51,394.12 L525.91,394.40 L526.63,394.92 L527.02,395.20 L527.41,395.49 L527.80,395.78 L528.19,396.07 L528.58,396.37 L528.96,396.66 L529.33,396.96 L529.71,397.26 L530.08,397.55 L530.72,398.09 L531.08,398.38 L531.43,398.67 L531.77,398.97" fill="none" stroke="#fff" stroke-opacity="0.35" stroke-width="0.6" stroke-dasharray="10 3"/>
<path d="M480,378 L482.5,376.2 L485.5,374.7 L492.5,375.2 L494.8,377.8 L490.5,384.2 L487.2,386.6 L483.8,386.3 L480.2,385.2 Z" fill="#dc1847"/>
<text x="394.49" y="418.30" font-family="Liberation Sans, sans-serif" font-weight="700" font-size="17.60" fill="#151515" textLength="52.69" lengthAdjust="spacingAndGlyphs" stroke="#151515" stroke-width="0.3">About</text>
<text x="452.01" y="418.30" font-family="Liberation Sans, sans-serif" font-weight="700" font-size="17.60" fill="#151515" textLength="64.71" lengthAdjust="spacingAndGlyphs" stroke="#151515" stroke-width="0.3">90,000</text>
<text x="398.66" y="442.80" font-family="Liberation Sans, sans-serif" font-size="17.20" fill="#151515" textLength="41.04" lengthAdjust="spacingAndGlyphs" stroke="#151515" stroke-width="0.22">visas</text>
<text x="444.33" y="442.80" font-family="Liberation Sans, sans-serif" font-size="17.20" fill="#151515" textLength="68.12" lengthAdjust="spacingAndGlyphs" stroke="#151515" stroke-width="0.22">affected</text>
</svg></body></html>
